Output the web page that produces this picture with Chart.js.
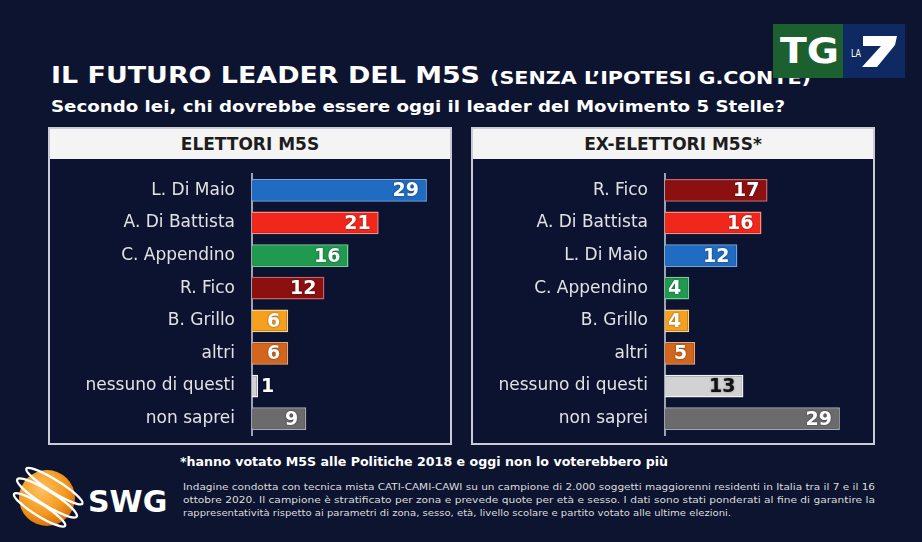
<!DOCTYPE html>
<html>
<head>
<meta charset="utf-8">
<script src="https://cdn.jsdelivr.net/npm/chart.js@4.4.0/dist/chart.umd.min.js"></script>
<style>
    html, body { margin: 0; padding: 0; }
    body {
        width: 922px; height: 542px; overflow: hidden; position: relative;
        background: #0c1430; color: #fff; font-family: "DejaVu Sans", sans-serif;
    }
    .abs { position: absolute; white-space: nowrap; line-height: 1; }
    .fit { transform-origin: 0 0; }
    #title { left: 51px; top: 64px; font-size: 23px; font-weight: bold; }
    #title2 { left: 490px; top: 69px; font-size: 18px; font-weight: bold; }
    #subtitle { left: 51px; top: 99px; font-size: 16px; font-weight: bold; }
    .panel { position: absolute; top: 127px; width: 400px; height: 314px; border: 2px solid #c9ccd6; background: #0b1330; }
    .panel .head { position: absolute; left: 0; top: 0; width: 100%; height: 30px; background: #f4f4f4; }
    .panel .head div { position: absolute; left: 0; width: 100%; top: 7px; text-align: center; color: #1d1d1d; font-size: 17px; font-weight: bold; line-height: 1; }
    .panel canvas { position: absolute; left: 0; top: 31px; }
    #note { left: 180px; top: 455px; font-size: 13px; font-weight: bold; }
    .small { left: 183px; font-size: 9px; color: #dcdcdc; white-space: nowrap; }
    #tg { position: absolute; left: 773px; top: 24px; width: 132px; height: 54px; }
</style>
</head>
<body>

<div id="title" class="abs fit" data-w="429">IL FUTURO LEADER DEL M5S</div>
<div id="title2" class="abs fit" data-w="321">(SENZA L’IPOTESI G.CONTE)</div>
<div id="subtitle" class="abs fit" data-w="734">Secondo lei, chi dovrebbe essere oggi il leader del Movimento 5 Stelle?</div>

<div class="panel" style="left:48px">
    <div class="head"><div>ELETTORI M5S</div></div>
    <canvas id="leftChart" width="400" height="283"></canvas>
</div>
<div class="panel" style="left:471px">
    <div class="head"><div>EX-ELETTORI M5S*</div></div>
    <canvas id="rightChart" width="400" height="283"></canvas>
</div>

<!-- TG LA7 logo -->
<svg id="tg" viewBox="0 0 132 54">
    <rect x="0" y="0" width="70" height="54" fill="#1d6030"/>
    <rect x="70" y="0" width="62" height="54" fill="#0f2a63"/>
    <text x="7" y="39" font-family="DejaVu Sans" font-weight="bold" font-size="36" fill="#fff" textLength="59" lengthAdjust="spacingAndGlyphs">TG</text>
    <text x="78" y="33" font-family="DejaVu Sans" font-size="11" fill="#fff" textLength="10" lengthAdjust="spacingAndGlyphs">LA</text>
    <path d="M90 12 L124 12 L122 21 L104 43 L89 43 L108 22 L90 22 Z" fill="#fff"/>
</svg>

<!-- SWG logo -->
<svg style="position:absolute;left:8px;top:462px" width="160" height="72" viewBox="0 0 160 72">
    <defs>
        <radialGradient id="sw" cx="0.4" cy="0.35" r="0.7">
            <stop offset="0" stop-color="#ffc060"/>
            <stop offset="0.6" stop-color="#f59a20"/>
            <stop offset="1" stop-color="#d86a08"/>
        </radialGradient>
    </defs>
    <circle cx="39" cy="36" r="28" fill="url(#sw)"/>
    <g fill="none" stroke="#fff" stroke-width="2.4" transform="rotate(32 39 36)">
        <ellipse cx="39" cy="22" rx="33" ry="6"/>
        <ellipse cx="39" cy="36" rx="35" ry="7"/>
        <ellipse cx="39" cy="50" rx="30" ry="6"/>
    </g>
    <text x="80" y="50" font-family="DejaVu Sans" font-weight="bold" font-size="30" fill="#fff">SWG</text>
</svg>

<div id="note" class="abs fit" data-w="488">*hanno votato M5S alle Politiche 2018 e oggi non lo voterebbero più</div>
<div class="abs small fit" style="top:483px" data-w="692">Indagine condotta con tecnica mista CATI-CAMI-CAWI su un campione di 2.000 soggetti maggiorenni residenti in Italia tra il 7 e il 16</div>
<div class="abs small fit" style="top:496px" data-w="692">ottobre 2020. Il campione è stratificato per zona e prevede quote per età e sesso. I dati sono stati ponderati al fine di garantire la</div>
<div class="abs small fit" style="top:509px" data-w="548">rappresentatività rispetto ai parametri di zona, sesso, età, livello scolare e partito votato alle ultime elezioni.</div>

<script>
// data (percent)
const leftLabels = ["L. Di Maio", "A. Di Battista", "C. Appendino", "R. Fico", "B. Grillo", "altri", "nessuno di questi", "non saprei"];
const leftValues = [29, 21, 16, 12, 6, 6, 1, 9];

const rightLabels = ["R. Fico", "A. Di Battista", "L. Di Maio", "C. Appendino", "B. Grillo", "altri", "nessuno di questi", "non saprei"];
const rightValues = [17, 16, 12, 4, 4, 5, 13, 29];

// colours per answer: [fill, edge, number]
const palette = {
    "L. Di Maio": ["#1f6cc2", "#6ea6e2", "#fff"],
    "A. Di Battista": ["#f0281c", "#ff8a7e", "#fff"],
    "C. Appendino": ["#1f9a4f", "#74cf95", "#fff"],
    "R. Fico": ["#8c1010", "#cf6464", "#fff"],
    "B. Grillo": ["#f5a01e", "#ffd38a", "#fff"],
    "altri": ["#d2661c", "#f2a676", "#fff"],
    "nessuno di questi": ["#d2d2d2", "#f2f2f2", "#111"],
    "non saprei": ["#6b6b6b", "#aaaaaa", "#fff"]
};

// numbers at the end of each bar (inside when there is room)
const valueLabels = {
    id: "valueLabels",
    afterDatasetsDraw(chart) {
        const ctx = chart.ctx;
        const ds = chart.data.datasets[0];
        ctx.save();
        ctx.font = "bold 19px 'DejaVu Sans'";
        ctx.textBaseline = "middle";
        ctx.shadowColor = "rgba(0,0,0,0.5)";
        ctx.shadowBlur = 2;
        chart.getDatasetMeta(0).data.forEach((bar, i) => {
            const txt = String(ds.data[i]);
            const tw = ctx.measureText(txt).width;
            if (bar.x - bar.base >= tw + 10) {
                ctx.textAlign = "right";
                ctx.fillStyle = palette[chart.data.labels[i]][2];
                ctx.fillText(txt, bar.x - 8, bar.y + 1);
            } else {
                ctx.textAlign = "left";
                ctx.fillStyle = "#fff";
                ctx.fillText(txt, bar.x + 3, bar.y + 1);
            }
        });
        ctx.restore();
    }
};

function makeChart(id, labels, values, axisWidth, padRight) {
    return new Chart(document.getElementById(id).getContext("2d"), {
        type: "bar",
        data: {
            labels: labels,
            datasets: [{
                data: values,
                backgroundColor: labels.map(l => palette[l][0]),
                borderColor: labels.map(l => palette[l][1]),
                borderWidth: 1.5,
                borderSkipped: "left",
                categoryPercentage: 1,
                barPercentage: 0.7
            }]
        },
        options: {
            indexAxis: "y",
            responsive: false,
            animation: false,
            layout: { padding: { top: 14, bottom: 8, right: padRight } },
            scales: {
                x: { display: false, min: 0, max: 32 },
                y: {
                    grid: { display: false, drawTicks: false },
                    border: { display: true, color: "#9ea3b3", width: 2 },
                    ticks: { color: "#e2e2e2", font: { family: "DejaVu Sans", size: 17 }, padding: 17 },
                    afterFit: s => { s.width = axisWidth; s.paddingTop = 0; s.paddingBottom = 0; }
                }
            },
            plugins: { legend: { display: false }, tooltip: { enabled: false } }
        },
        plugins: [valueLabels]
    });
}

function fitText() {
    document.querySelectorAll(".fit").forEach(el => {
        el.style.transform = "none";
        const w = el.getBoundingClientRect().width;
        el.style.transform = "scaleX(" + (el.dataset.w / w) + ")";
    });
}

fitText();
makeChart("leftChart", leftLabels, leftValues, 202, 5);
makeChart("rightChart", rightLabels, rightValues, 192, 15);
document.fonts.ready.then(fitText);
</script>
</body>
</html>
